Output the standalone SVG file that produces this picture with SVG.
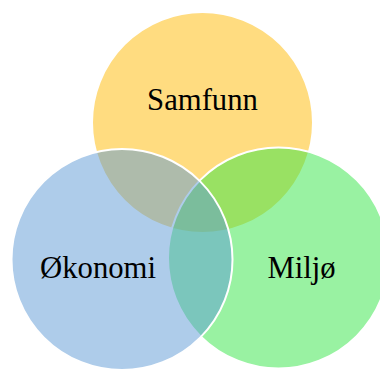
<svg xmlns="http://www.w3.org/2000/svg" width="380" height="370" viewBox="0 0 380 370">
  <style>
    .ring { stroke: #ffffff; stroke-width: 2; fill-opacity: 0.5; }
    .label { font-family: "Liberation Serif", "Times New Roman", serif; font-size: 30.7px; fill: #000000; text-anchor: middle; }
  </style>
  <rect width="380" height="370" fill="#ffffff"/>
  <g id="samfunn">
    <circle class="ring" cx="202.5" cy="122.5" r="110.5" fill="#FFB902"/>
  </g>
  <g id="miljo">
    <circle class="ring" cx="278.5" cy="258" r="110.5" fill="#33E545"/>
  </g>
  <g id="okonomi">
    <circle class="ring" cx="122" cy="259.5" r="110.5" fill="#5D99D5"/>
  </g>
  <g id="labels">
    <text class="label" x="202.5" y="109.5">Samfunn</text>
    <text class="label" x="98" y="278">Økonomi</text>
    <text class="label" x="301.5" y="277.5">Miljø</text>
  </g>
</svg>
